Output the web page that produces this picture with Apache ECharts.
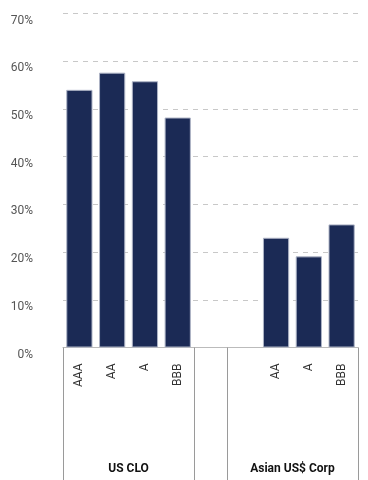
<!DOCTYPE html>
<html>
<head>
<meta charset="utf-8">
<script src="https://cdn.jsdelivr.net/npm/echarts@6/dist/echarts.min.js"></script>
<style>html,body{margin:0;padding:0;background:#fff}#c{width:368px;height:480px}</style>
</head>
<body>
<div id="c"></div>
<script>
const categories = ['AAA', 'AA', 'A', 'BBB', '', '', 'AA', 'A', 'BBB'];
const values = [54.0, 57.6, 55.8, 48.2, null, null, 23.0, 19.1, 25.8];
const groupLabels = { 2: 'US CLO', 7: 'Asian US$ Corp' };
const groupBoundaries = [0, 4, 5]; // category indices where group separators start
const yTicks = { min: 0, max: 70, interval: 10 };

const chart = echarts.init(document.getElementById('c'));
chart.setOption({
  animation: false,
  textStyle: { fontFamily: 'Roboto' },
  grid: { left: 63, right: 10, top: 13.5, bottom: 132.5 },
  xAxis: [
    {
      type: 'category',
      data: categories,
      position: 'bottom',
      axisLine: { show: true, lineStyle: { color: '#bbbbbb', width: 1 } },
      axisTick: {
        show: true,
        length: 140,
        interval: function (i) { return groupBoundaries.indexOf(i) >= 0; },
        lineStyle: { color: '#9a9a9a', width: 1 }
      },
      axisLabel: {
        interval: 0,
        rotate: 90,
        margin: 16,
        fontSize: 12,
        color: '#333333',
        fontFamily: 'Roboto'
      }
    },
    {
      type: 'value',
      min: 0,
      max: 9,
      interval: 1,
      position: 'bottom',
      offset: 107,
      axisLine: { show: false },
      axisTick: { show: false },
      splitLine: { show: false },
      axisLabel: {
        margin: 8,
        fontSize: 12,
        fontWeight: 'bold',
        color: '#111111',
        fontFamily: 'Roboto',
        showMinLabel: false,
        showMaxLabel: false,
        formatter: function (v) { return groupLabels[v] || ''; }
      }
    }
  ],
  yAxis: {
    type: 'value',
    min: yTicks.min,
    max: yTicks.max,
    interval: yTicks.interval,
    axisLine: { show: false },
    axisTick: { show: false },
    axisLabel: {
      formatter: '{value}%',
      margin: 30,
      fontSize: 12,
      color: '#555555',
      fontFamily: 'Roboto',
      verticalAlign: 'top',
      padding: [1, 0, 0, 0]
    },
    splitLine: { show: true, lineStyle: { color: '#c8c8c8', type: [5, 5], width: 1 } }
  },
  series: [{
    type: 'bar',
    xAxisIndex: 0,
    data: values,
    barCategoryGap: '20%',
    itemStyle: { color: '#1b2a55', borderColor: '#aeb4c6', borderWidth: 1 }
  }]
});
</script>
</body>
</html>
